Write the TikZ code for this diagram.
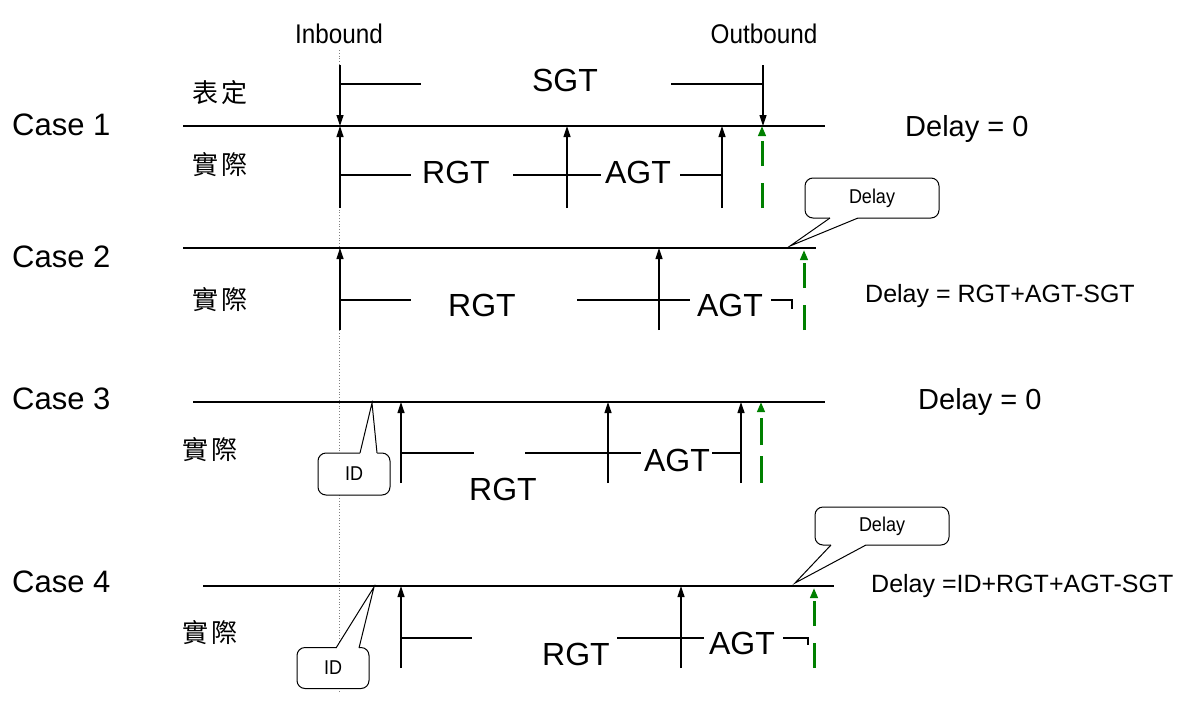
\documentclass[tikz,border=0pt]{standalone}
\usepackage{fontspec}
\setmainfont{Liberation Sans}
\newfontfamily\cjk{Noto Sans CJK TC}
\newfontfamily\narrowf[FakeStretch=0.9]{Liberation Sans}
\usetikzlibrary{arrows.meta}
\definecolor{dgreen}{RGB}{0,128,0}
\begin{document}
\begin{tikzpicture}[x=1pt,y=-1pt,
  axis/.style={line width=1.3pt},
  tk/.style={line width=1.2pt},
  arr/.style={tk,-{Triangle[length=11pt,width=7pt]}},
  garr/.style={line width=3pt,draw=dgreen,dash pattern=on 25pt off 17pt,-{Triangle[length=10pt,width=7.5pt]}},
  big/.style={inner sep=0,font=\fontsize{32}{36}\selectfont},
  casel/.style={inner sep=0,anchor=base west,font=\fontsize{31}{36}\selectfont},
  cj/.style={inner sep=0,font=\cjk\fontsize{26}{30}\selectfont},
  hd/.style={inner sep=0,font=\narrowf\fontsize{27}{30}\selectfont},
  dz/.style={inner sep=0,anchor=base west,font=\fontsize{29}{34}\selectfont},
  formula/.style={inner sep=0,anchor=base west,font=\fontsize{25}{30}\selectfont},
  cbox/.style={draw,rounded corners=8pt,line width=1pt,fill=white,inner sep=0,font=\narrowf\fontsize{20}{24}\selectfont},
  ptr/.style={line width=1pt,line join=miter}
]
\useasboundingbox (0,0) rectangle (1186,715);

% header and guide
\node[hd] (inb) at (339,34) {Inbound};
\node[hd] (outb) at (764,34) {Outbound};
\coordinate (dt) at (339,50); \coordinate (db) at (339,692);
\draw[gray,dotted,line width=0.8pt] (dt) -- (db);

% ---------------- Case 1
\node[casel] (case1) at (12,135) {Case 1};
\node[cj] (bd1) at (220,93) {表\hspace{4pt}定};
\node[cj] (sj1) at (220,165) {實\hspace{4pt}際};
\coordinate (L1w) at (183,126); \coordinate (L1e) at (825,126);
\draw[axis] (L1w) -- (L1e);
\coordinate (s1t) at (340,65); \coordinate (s1b) at (340,126);
\coordinate (s2t) at (763,65); \coordinate (s2b) at (763,126);
\draw[arr] (s1t) -- (s1b);
\draw[arr] (s2t) -- (s2b);
\node[big] (sgt) at (565,80) {SGT};
\coordinate (sg1) at (340,84); \coordinate (sg2) at (421,84);
\coordinate (sg3) at (671,84); \coordinate (sg4) at (763,84);
\draw[tk] (sg1) -- (sg2);
\draw[tk] (sg3) -- (sg4);
\coordinate (a11b) at (340,208); \coordinate (a11t) at (340,126);
\coordinate (a12b) at (567,208); \coordinate (a12t) at (567,126);
\coordinate (a13b) at (722,208); \coordinate (a13t) at (722,126);
\coordinate (g1b) at (762,208); \coordinate (g1t) at (762,126);
\draw[arr] (a11b) -- (a11t);
\draw[arr] (a12b) -- (a12t);
\draw[arr] (a13b) -- (a13t);
\draw[garr] (g1b) -- (g1t);
\node[big] (rgt1) at (456,172) {RGT};
\node[big] (agt1) at (638,172) {AGT};
\coordinate (r11) at (340,175); \coordinate (r12) at (411,175);
\coordinate (r13) at (513,175); \coordinate (r14) at (601,175);
\coordinate (r15) at (680,175); \coordinate (r16) at (722,175);
\draw[tk] (r11) -- (r12);
\draw[tk] (r13) -- (r14);
\draw[tk] (r15) -- (r16);
\node[dz] (dz1) at (905,136) {Delay = 0};

% ---------------- Case 2
\node[casel] (case2) at (12,267) {Case 2};
\node[cj] (sj2) at (220,300) {實\hspace{4pt}際};
\coordinate (L2w) at (183,248); \coordinate (L2e) at (816,248);
\draw[axis] (L2w) -- (L2e);
\coordinate (a21b) at (340,330); \coordinate (a21t) at (340,248);
\coordinate (a22b) at (659,330); \coordinate (a22t) at (659,248);
\coordinate (g2b) at (804,330); \coordinate (g2t) at (804,250);
\draw[arr] (a21b) -- (a21t);
\draw[arr] (a22b) -- (a22t);
\draw[garr] (g2b) -- (g2t);
\node[big] (rgt2) at (482,305) {RGT};
\node[big] (agt2) at (730,305) {AGT};
\coordinate (r21) at (340,300); \coordinate (r22) at (411,300);
\coordinate (r23) at (577,300); \coordinate (r24) at (690,300);
\coordinate (r25) at (771,300); \coordinate (r26) at (792,300); \coordinate (r27) at (792,309);
\draw[tk] (r21) -- (r22);
\draw[tk] (r23) -- (r24);
\draw[tk] (r25) -- (r26) -- (r27);
\node[cbox,minimum width=134pt,minimum height=40pt] (db2) at (872,198) {Delay};
\coordinate (p2a) at (830,218); \coordinate (p2b) at (858,218); \coordinate (p2t) at (790,246);
\fill[white] (p2a) -- (p2t) -- (p2b) -- ([yshift=2pt]p2b) -- ([yshift=2pt]p2a) -- cycle;
\draw[ptr] (p2a) -- (p2t) -- (p2b);
\node[formula] (f2) at (865,302) {Delay = RGT+AGT-SGT};

% ---------------- Case 3
\node[casel] (case3) at (12,409) {Case 3};
\node[cj] (sj3) at (210,450) {實\hspace{4pt}際};
\coordinate (L3w) at (193,402); \coordinate (L3e) at (825,402);
\draw[axis] (L3w) -- (L3e);
\coordinate (a31b) at (401,483); \coordinate (a31t) at (401,402);
\coordinate (a32b) at (608,483); \coordinate (a32t) at (608,402);
\coordinate (a33b) at (741,483); \coordinate (a33t) at (741,402);
\coordinate (g3b) at (761,483); \coordinate (g3t) at (761,402);
\draw[arr] (a31b) -- (a31t);
\draw[arr] (a32b) -- (a32t);
\draw[arr] (a33b) -- (a33t);
\draw[garr,dash pattern=on 27pt off 11pt] (g3b) -- (g3t);
\node[big] (rgt3) at (503,489) {RGT};
\node[big] (agt3) at (677,460) {AGT};
\coordinate (r31) at (401,453); \coordinate (r32) at (474,453);
\coordinate (r33) at (525,453); \coordinate (r34) at (641,453);
\coordinate (r35) at (712,453); \coordinate (r36) at (741,453);
\draw[tk] (r31) -- (r32);
\draw[tk] (r33) -- (r34);
\draw[tk] (r35) -- (r36);
\node[cbox,minimum width=72pt,minimum height=42pt] (id3) at (354,474) {ID};
\coordinate (p3a) at (360,453); \coordinate (p3b) at (377,453); \coordinate (p3t) at (372,403);
\fill[white] (p3a) -- (p3t) -- (p3b) -- ([yshift=-2pt]p3b) -- ([yshift=-2pt]p3a) -- cycle;
\draw[ptr] (p3a) -- (p3t) -- (p3b);
\node[dz] (dz3) at (918,409) {Delay = 0};

% ---------------- Case 4
\node[casel] (case4) at (12,592) {Case 4};
\node[cj] (sj4) at (210,633) {實\hspace{4pt}際};
\coordinate (L4w) at (203,586); \coordinate (L4e) at (834,586);
\draw[axis] (L4w) -- (L4e);
\coordinate (a41b) at (401,668); \coordinate (a41t) at (401,586);
\coordinate (a42b) at (681,668); \coordinate (a42t) at (681,586);
\coordinate (g4b) at (814,668); \coordinate (g4t) at (814,588);
\draw[arr] (a41b) -- (a41t);
\draw[arr] (a42b) -- (a42t);
\draw[garr] (g4b) -- (g4t);
\node[big] (rgt4) at (576,654) {RGT};
\node[big] (agt4) at (742,643) {AGT};
\coordinate (r41) at (401,638); \coordinate (r42) at (472,638);
\coordinate (r43) at (617,638); \coordinate (r44) at (704,638);
\coordinate (r45) at (783,638); \coordinate (r46) at (808,638); \coordinate (r47) at (808,645);
\draw[tk] (r41) -- (r42);
\draw[tk] (r43) -- (r44);
\draw[tk] (r45) -- (r46) -- (r47);
\node[cbox,minimum width=72pt,minimum height=41pt] (id4) at (333,668) {ID};
\coordinate (p4a) at (336,648); \coordinate (p4b) at (359,648); \coordinate (p4t) at (374,587);
\fill[white] (p4a) -- (p4t) -- (p4b) -- ([yshift=-2pt]p4b) -- ([yshift=-2pt]p4a) -- cycle;
\draw[ptr] (p4a) -- (p4t) -- (p4b);
\node[cbox,minimum width=134pt,minimum height=38pt] (db4) at (882,526) {Delay};
\coordinate (p4c) at (831,545); \coordinate (p4d) at (866,545); \coordinate (p4s) at (795,583);
\fill[white] (p4c) -- (p4s) -- (p4d) -- ([yshift=2pt]p4d) -- ([yshift=2pt]p4c) -- cycle;
\draw[ptr] (p4c) -- (p4s) -- (p4d);
\node[formula] (f4) at (871,592) {Delay =ID+RGT+AGT-SGT};
\end{tikzpicture}
\end{document}
